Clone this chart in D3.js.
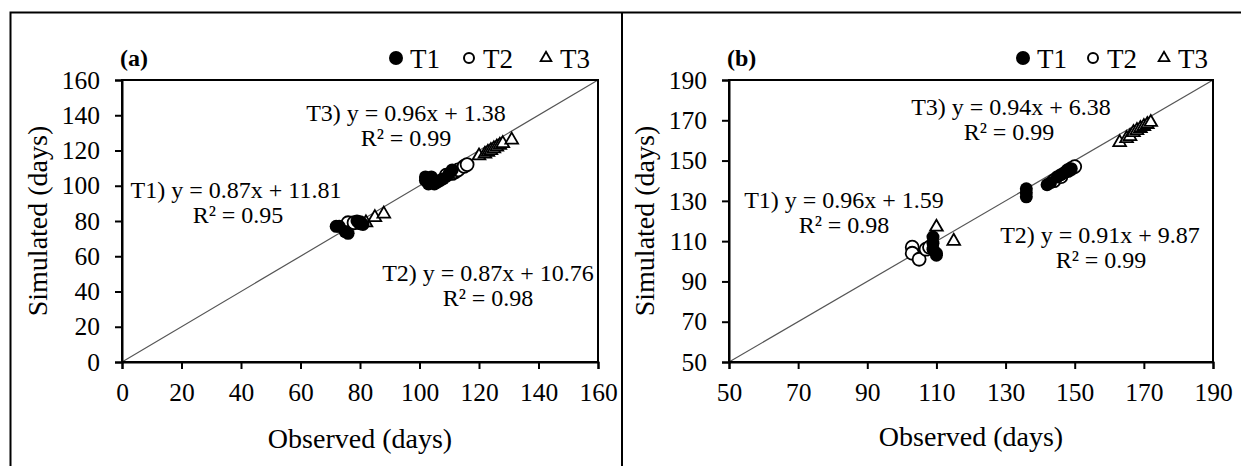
<!DOCTYPE html>
<html><head><meta charset="utf-8">
<script src="https://cdn.jsdelivr.net/npm/d3@7"></script>
<style>body{margin:0;background:#fff}svg{display:block}text{font-family:"Liberation Serif","Times New Roman",serif;fill:#000}</style>
</head><body><svg id="c" width="1241" height="466"></svg>
<script>
// ---- data (observed, simulated) ----
const a_T1 = [[72,77],[73,77],[75,74],[76,73],[79,80],[80,79],[81,78],[102,103],[102,105],[103,101],[103,104],[104,105],[105,101],[106,102],[107,103],[108,104],[110,107],[111,109]];
const a_T2 = [[76,79],[78,79],[80,79],[109,106],[111,107],[112,108],[113,109],[115,111],[116,112]];
const a_T3 = [[82,79],[85,82],[88,84],[120,117],[122,118],[123,119],[124,120],[125,121],[126,122],[127,123],[128,124],[131,126]];
const b_T1 = [[109,112],[109,109],[109,106],[110,104],[110,103],[136,136],[136,134],[136,132],[142,138],[143,139],[145,142],[146,143],[147,144],[148,145],[149,146]];
const b_T2 = [[103,107],[103,104],[105,101],[107,106],[108,107],[144,140],[146,142],[148,145],[149,146],[150,147]];
const b_T3 = [[110,117],[115,110],[163,159],[165,161],[166,162],[167,164],[168,165],[169,166],[170,167],[171,168],[172,169]];
const a_ticks = [0,20,40,60,80,100,120,140,160];
const b_ticks = [50,70,90,110,130,150,170,190];
const legendLabels = ["T1","T2","T3"];
const a_eq = [
  {l1:"T3) y = 0.96x + 1.38", l2:"R² = 0.99"},
  {l1:"T1) y = 0.87x + 11.81", l2:"R² = 0.95"},
  {l1:"T2) y = 0.87x + 10.76", l2:"R² = 0.98"}];
const b_eq = [
  {l1:"T3) y = 0.94x + 6.38", l2:"R² = 0.99"},
  {l1:"T1) y = 0.96x + 1.59", l2:"R² = 0.98"},
  {l1:"T2) y = 0.91x + 9.87", l2:"R² = 0.99"}];

const FONT = "Liberation Serif";
const svg = d3.select("#c");
// outer frame
svg.append("rect").attr("x",10.5).attr("y",12.5).attr("width",1240).attr("height",470).attr("fill","none").attr("stroke","#000").attr("stroke-width",2);
svg.append("line").attr("x1",622).attr("x2",622).attr("y1",12).attr("y2",466).attr("stroke","#000").attr("stroke-width",2);

function panel(o){
  const x = d3.scaleLinear().domain(o.dom).range([o.x0,o.x1]);
  const y = d3.scaleLinear().domain(o.dom).range([o.y0,o.y1]);
  const g = svg.append("g");
  g.append("line").attr("x1",x(o.dom[0])).attr("y1",y(o.dom[0])).attr("x2",x(o.dom[1])).attr("y2",y(o.dom[1])).attr("stroke","#555").attr("stroke-width",1.2);
  g.append("rect").attr("x",o.x0).attr("y",o.y1).attr("width",o.x1-o.x0).attr("height",o.y0-o.y1).attr("fill","none").attr("stroke","#000").attr("stroke-width",2);
  const xa = g.append("g").attr("transform",`translate(0,${o.y0})`).call(d3.axisBottom(x).tickValues(o.ticks).tickSize(7).tickPadding(14));
  const ya = g.append("g").attr("transform",`translate(${o.x0},0)`).call(d3.axisLeft(y).tickValues(o.ticks).tickSize(7).tickPadding(15));
  [xa,ya].forEach(a=>{
    a.attr("font-family",FONT).attr("font-size",25.5);
    a.select(".domain").attr("stroke","#000").attr("stroke-width",2);
    a.selectAll(".tick line").attr("stroke","#000").attr("stroke-width",2);
    a.selectAll("text").attr("fill","#222");
  });
  const r = 6.5;
  g.selectAll(".t3").data(o.T3).join("path").attr("d",d3.symbol(d3.symbolTriangle,70)())
    .attr("transform",d=>`translate(${x(d[0])},${y(d[1])})`).attr("fill","#fff").attr("stroke","#000").attr("stroke-width",1.8);
  g.selectAll(".t2").data(o.T2).join("circle").attr("cx",d=>x(d[0])).attr("cy",d=>y(d[1])).attr("r",r).attr("fill","#fff").attr("stroke","#000").attr("stroke-width",1.8);
  g.selectAll(".t1").data(o.T1).join("circle").attr("cx",d=>x(d[0])).attr("cy",d=>y(d[1])).attr("r",r).attr("fill","#000");
  g.append("text").attr("x",(o.x0+o.x1)/2).attr("y",o.xtY).attr("text-anchor","middle").attr("font-size",28).attr("fill","#222").text("Observed (days)");
  g.append("text").attr("transform",`translate(${o.ytX},${(o.y0+o.y1)/2}) rotate(-90)`).attr("text-anchor","middle").attr("font-size",28).attr("fill","#222").text("Simulated (days)");
  g.append("text").attr("x",o.x0-2).attr("y",o.y1-14).attr("font-size",24).attr("font-weight","bold").text(o.tag);
  o.leg.forEach((lx,i)=>{
    const sy = o.y1-22;
    if(i===0) g.append("circle").attr("cx",lx).attr("cy",sy).attr("r",7).attr("fill","#000");
    if(i===1) g.append("circle").attr("cx",lx).attr("cy",sy).attr("r",5).attr("fill","#fff").attr("stroke","#000").attr("stroke-width",2);
    if(i===2) g.append("path").attr("d",d3.symbol(d3.symbolTriangle,50)()).attr("transform",`translate(${lx},${sy})`).attr("fill","#fff").attr("stroke","#000").attr("stroke-width",1.8);
    g.append("text").attr("x",lx+14).attr("y",sy+10).attr("font-size",27).attr("fill","#222").text(legendLabels[i]);
  });
  o.eq.forEach((e,i)=>{
    const p = o.eqPos[i];
    g.append("text").attr("x",p[0]).attr("y",p[1]).attr("text-anchor","middle").attr("font-size",24).attr("fill","#222").text(e.l1);
    g.append("text").attr("x",p[0]+p[2]).attr("y",p[1]+25).attr("text-anchor","middle").attr("font-size",24).attr("fill","#222").text(e.l2);
  });
}

panel({dom:[0,160],ticks:a_ticks,x0:122,x1:598,y0:362,y1:80,T1:a_T1,T2:a_T2,T3:a_T3,
  xtY:448,ytX:47,tag:"(a)",leg:[396,469,546],eq:a_eq,
  eqPos:[[406,121,0],[236,198,2],[488,281,0]]});
panel({dom:[50,190],ticks:b_ticks,x0:729,x1:1213,y0:362,y1:80,T1:b_T1,T2:b_T2,T3:b_T3,
  xtY:446,ytX:654,tag:"(b)",leg:[1023,1093,1164],eq:b_eq,
  eqPos:[[1011,115,-2],[844,208,0],[1100,243,1]]});
</script></body></html>
